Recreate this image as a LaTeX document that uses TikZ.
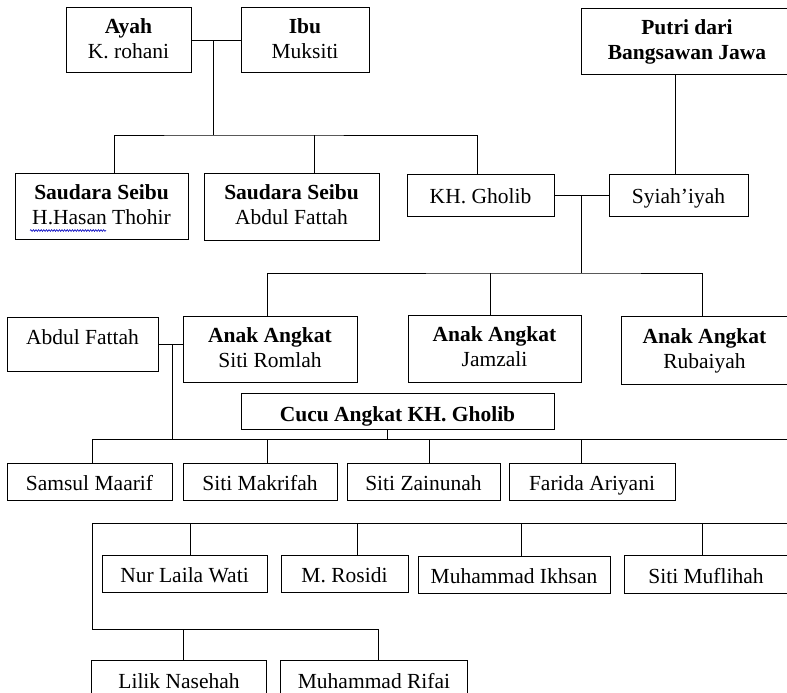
\documentclass[tikz,border=0pt]{standalone}
\usepackage{fontspec}
\setmainfont{Liberation Serif}
\usetikzlibrary{decorations.pathmorphing}
\newcommand{\lnstrut}{\rule[-5pt]{0pt}{21pt}}
\tikzset{
  box/.style={draw, line width=1pt, inner sep=0pt, align=center, font=\fontsize{21.5}{25}\selectfont},
  one/.style={box, text height=17pt, text depth=0pt},
  two/.style={box},
  link/.style={line width=1pt}
}
\begin{document}
\begin{tikzpicture}[x=1pt,y=-1pt]
\path[use as bounding box] (0,0) rectangle (787,693);
\coordinate (edge) at (786.5,0);
\coordinate (bot) at (0,692.5);
% top generation
\node[two, minimum width=125pt, minimum height=65pt] (ayah) at (128.5,40.5) {\lnstrut\textbf{Ayah}\\\lnstrut K. rohani};
\node[two, minimum width=128pt, minimum height=65pt] (ibu) at (305,40.5) {\lnstrut\textbf{Ibu}\\\lnstrut Muksiti};
\node[two, draw=none, minimum width=200pt, minimum height=65pt] (putri) at (687,41.5) {\lnstrut\textbf{Putri dari}\\\lnstrut\textbf{Bangsawan Jawa}};
\draw[link] (edge |- putri.north) -- (putri.north -| 581,0) -- (putri.south -| 581,0) -- (edge |- putri.south);
% second generation
\node[two, minimum width=173pt, minimum height=66pt] (sdr1) at (101.5,206) {\lnstrut\textbf{Saudara Seibu}\\\lnstrut H.Hasan Thohir};
\node[two, minimum width=175pt, minimum height=67pt] (sdr2) at (291.5,206.5) {\lnstrut\textbf{Saudara Seibu}\\\lnstrut Abdul Fattah};
\node[one, minimum width=147pt, minimum height=42pt] (kh) at (480.5,195) {KH. Gholib};
\node[one, minimum width=139pt, minimum height=42pt] (syiah) at (678.5,195) {Syiah’iyah};
% adopted children
\node[one, text depth=17pt, minimum width=151pt, minimum height=54pt] (fattah) at (82.5,344) {Abdul Fattah};
\node[two, minimum width=174pt, minimum height=66pt] (romlah) at (270,349) {\lnstrut\textbf{Anak Angkat}\\\lnstrut Siti Romlah};
\node[two, minimum width=173pt, minimum height=67pt] (jamzali) at (494.5,348.5) {\lnstrut\textbf{Anak Angkat}\\\lnstrut Jamzali};
\node[two, draw=none, minimum width=160pt, minimum height=67pt] (rubaiyah) at (704.5,350.5) {\lnstrut\textbf{Anak Angkat}\\\lnstrut Rubaiyah};
\draw[link] (edge |- rubaiyah.north) -- (rubaiyah.north -| 621,0) -- (rubaiyah.south -| 621,0) -- (edge |- rubaiyah.south);
\node[one, text height=20pt, minimum width=313pt, minimum height=36pt] (cucu) at (397.5,411.3) {\textbf{Cucu Angkat KH. Gholib}};
% grandchildren row 1
\node[one, minimum width=165pt, minimum height=37pt] (samsul) at (89.5,481.5) {Samsul Maarif};
\node[one, minimum width=154pt, minimum height=37pt] (makrifah) at (260,481.5) {Siti Makrifah};
\node[one, minimum width=153pt, minimum height=37pt] (zainunah) at (423.5,481.5) {Siti Zainunah};
\node[one, minimum width=166pt, minimum height=37pt] (farida) at (592,481.5) {Farida Ariyani};
% grandchildren row 2
\node[one, minimum width=165pt, minimum height=37pt] (nur) at (184.5,573.5) {Nur Laila Wati};
\node[one, minimum width=127pt, minimum height=37pt] (rosidi) at (344.5,573.5) {M. Rosidi};
\node[one, minimum width=192pt, minimum height=37pt] (ikhsan) at (514,574.5) {Muhammad Ikhsan};
\node[one, draw=none, minimum width=160pt, minimum height=37pt] (muflihah) at (706,574.5) {Siti Muflihah};
\draw[link] (edge |- muflihah.north) -- (muflihah.north -| 624,0) -- (muflihah.south -| 624,0) -- (edge |- muflihah.south);
% grandchildren row 3
\node[one, draw=none, minimum width=174pt, minimum height=37pt] (lilik) at (179,679.5) {Lilik Nasehah};
\draw[link] (lilik.west |- bot) -- (lilik.north west) -- (lilik.north east) -- (lilik.east |- bot);
\node[one, draw=none, minimum width=186pt, minimum height=37pt] (rifai) at (374,679.5) {Muhammad Rifai};
\draw[link] (rifai.west |- bot) -- (rifai.north west) -- (rifai.north east) -- (rifai.east |- bot);
% spell-check underline
\draw[blue!75!black, line width=0.6pt, decorate, decoration={snake, amplitude=0.9pt, segment length=2.6pt}] (30,230.5) -- (106,230.5);
% junction coordinates
\coordinate (c1) at (213,40.5);
\coordinate (h1) at (213,135);
\coordinate (c2) at (581,195);
\coordinate (h2) at (581,273);
\coordinate (c3) at (172,344);
\coordinate (h3) at (172,439);
\coordinate (k2) at (92,523);
\coordinate (k3) at (92,629);
\coordinate (pv) at (675,0);
\coordinate (rv) at (702,0);
% connectors
\draw[link] (ayah.east) -- (ibu.west);
\draw[link] (c1) -- (h1);
\draw[link] ([xshift=12.5pt]sdr1.north) |- (h1) -| ([xshift=-3.5pt]kh.north);
\draw[link] ([xshift=22.5pt]sdr2.north) -- ([xshift=22.5pt]sdr2.north |- h1);
\draw[link] (pv |- putri.south) -- (pv |- syiah.north);
\draw[link] (kh.east) -- (syiah.west);
\draw[link] (c2) -- (h2);
\draw[link] ([xshift=-3pt]romlah.north) |- (h2) -| (rv |- rubaiyah.north);
\draw[link] ([xshift=-4.5pt]jamzali.north) -- ([xshift=-4.5pt]jamzali.north |- h2);
\draw[link] (fattah.east) -- (fattah.east -| romlah.west);
\draw[link] (c3) -- (h3);
\draw[link] ([xshift=2.5pt]samsul.north) |- (edge |- h3);
\draw[link] ([xshift=7pt]makrifah.north) -- ([xshift=7pt]makrifah.north |- h3);
\draw[link] ([xshift=5.5pt]zainunah.north) -- ([xshift=5.5pt]zainunah.north |- h3);
\draw[link] ([xshift=-11pt]farida.north) -- ([xshift=-11pt]farida.north |- h3);
\draw[link] ([xshift=-10.5pt]cucu.south) -- ([xshift=-10.5pt]cucu.south |- h3);
\draw[link] (edge |- k2) -- (k2) -- (k3) -| ([xshift=4pt]rifai.north);
\draw[link] ([xshift=4pt]lilik.north) -- ([xshift=4pt]lilik.north |- k3);
\draw[link] ([xshift=5.5pt]nur.north) -- ([xshift=5.5pt]nur.north |- k2);
\draw[link] ([xshift=12.5pt]rosidi.north) -- ([xshift=12.5pt]rosidi.north |- k2);
\draw[link] ([xshift=7pt]ikhsan.north) -- ([xshift=7pt]ikhsan.north |- k2);
\draw[link] (rv |- muflihah.north) -- (rv |- k2);
\end{tikzpicture}
\end{document}
